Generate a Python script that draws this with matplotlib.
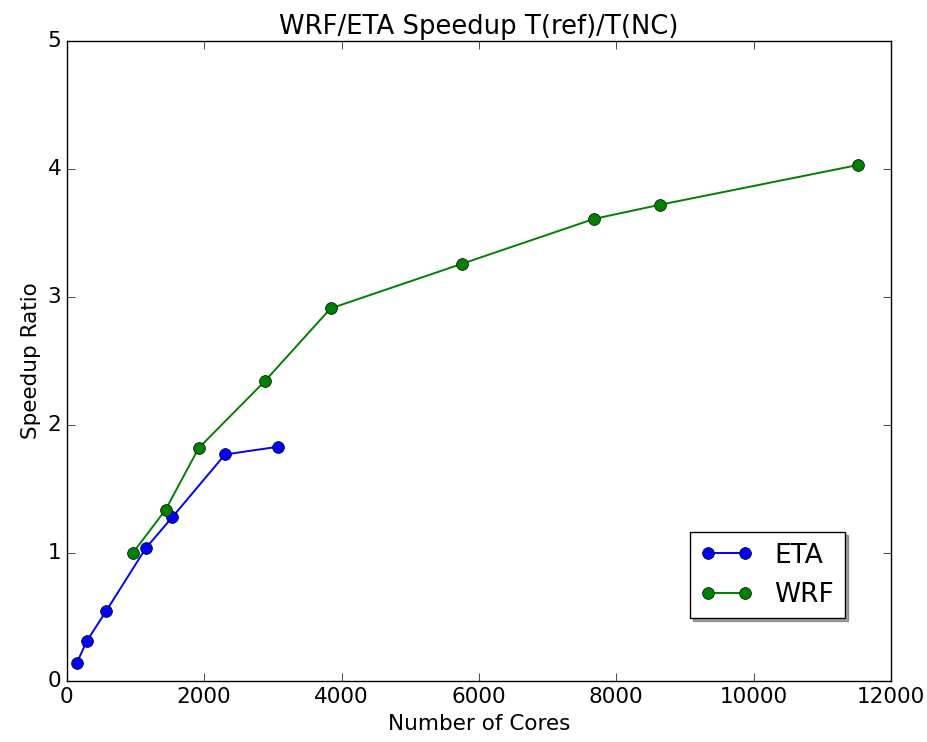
import matplotlib
matplotlib.use("Agg")
import matplotlib.pyplot as plt

# cores vs speedup ratio
ETA_CORES = [144, 288, 576, 1152, 1536, 2304, 3072]
ETA_SPEEDUP = [0.14, 0.31, 0.55, 1.04, 1.28, 1.77, 1.83]

WRF_CORES = [960, 1440, 1920, 2880, 3840, 5760, 7680, 8640, 11520]
WRF_SPEEDUP = [1.00, 1.34, 1.82, 2.34, 2.91, 3.26, 3.61, 3.72, 4.03]

XTICKS = [0, 2000, 4000, 6000, 8000, 10000, 12000]
YTICKS = [0, 1, 2, 3, 4, 5]


def main():
    plt.style.use("classic")
    fig = plt.figure(figsize=(9.28, 7.42), dpi=100, facecolor="white")
    ax = fig.add_axes([0.072, 0.082, 0.888, 0.863])

    ax.plot(ETA_CORES, ETA_SPEEDUP, "o-", color="blue", lw=1.4, ms=8.5,
            label="ETA")
    ax.plot(WRF_CORES, WRF_SPEEDUP, "o-", color="green", lw=1.4, ms=8.5,
            label="WRF")

    ax.set_xlim(0, 12000)
    ax.set_ylim(0, 5)
    ax.set_xticks(XTICKS)
    ax.set_yticks(YTICKS)
    ax.tick_params(labelsize=15.5, length=6)

    ax.set_xlabel("Number of Cores", fontsize=15.5)
    ax.set_ylabel("Speedup Ratio", fontsize=15.5)
    ax.set_title("WRF/ETA Speedup T(ref)/T(NC)", fontsize=18.6)

    ax.legend(loc="lower right", bbox_to_anchor=(0.944, 0.098),
              borderaxespad=0, shadow=True, fontsize=19, numpoints=2)

    fig.savefig("out.png", dpi=100, facecolor="white")


if __name__ == "__main__":
    main()
